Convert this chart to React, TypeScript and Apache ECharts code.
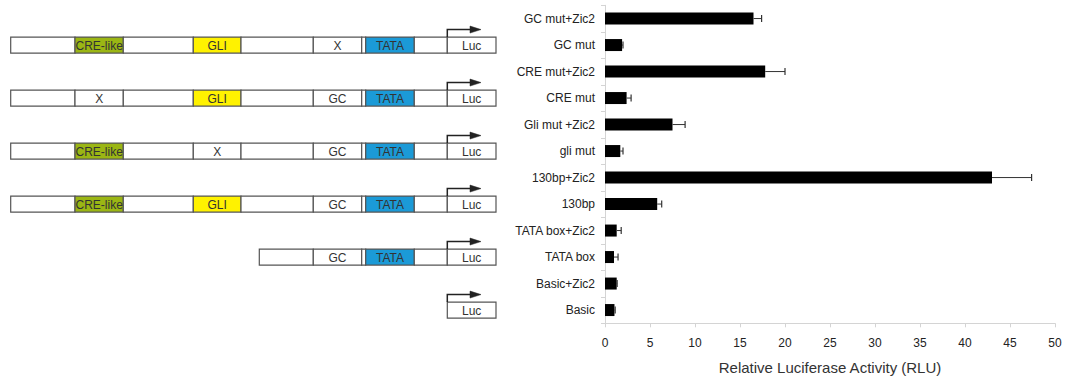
import React, { useEffect, useRef } from "react";
import * as echarts from "echarts";

const categories = [
  "GC mut+Zic2",
  "GC mut",
  "CRE mut+Zic2",
  "CRE mut",
  "Gli mut +Zic2",
  "gli mut",
  "130bp+Zic2",
  "130bp",
  "TATA box+Zic2",
  "TATA box",
  "Basic+Zic2",
  "Basic",
];
const values = [16.5, 1.9, 17.8, 2.4, 7.5, 1.7, 43.0, 5.8, 1.3, 1.0, 1.3, 1.05];
const errors = [0.9, 0.1, 2.2, 0.5, 1.4, 0.3, 4.4, 0.5, 0.5, 0.45, 0.05, 0.08];

// Construct diagrams, aligned with these categories
const constructCategory = ["GC mut", "CRE mut", "gli mut", "130bp", "TATA box", "Basic"];
const creSite: (string | null)[] = ["CRE-like", "X", "CRE-like", "CRE-like", null, null];
const gliSite: (string | null)[] = ["GLI", "GLI", "X", "GLI", null, null];
const gcSite: (string | null)[] = ["X", "GC", "GC", "GC", "GC", null];
const tataSite: (string | null)[] = ["TATA", "TATA", "TATA", "TATA", "TATA", null];

const FONT = "'Liberation Sans', Arial, Helvetica, sans-serif";
const COL: Record<string, string> = {
  "CRE-like": "#9bb614",
  GLI: "#fff200",
  TATA: "#1b9ad7",
};

function buildDiagram(chart: any) {
  const els: any[] = [];
  const H = 16;
  const stroke = "#555555";
  const box = (x0: number, x1: number, cy: number, label: string | null, fill: string) => {
    els.push({
      type: "rect",
      shape: { x: x0, y: cy - H / 2, width: x1 - x0, height: H },
      style: { fill, stroke, lineWidth: 1.2 },
    });
    if (label) {
      els.push({
        type: "text",
        x: (x0 + x1) / 2,
        y: cy + 0.5,
        z: 10,
        style: {
          text: label,
          fill: "#333333",
          font: `12px ${FONT}`,
          textAlign: "center",
          align: "center",
          textVerticalAlign: "middle",
          verticalAlign: "middle",
        },
      });
    }
  };
  constructCategory.forEach((cat, i) => {
    const idx = categories.indexOf(cat);
    const cy = chart.convertToPixel({ yAxisIndex: 0 }, idx) as number;
    const full = creSite[i] !== null;
    const hasGC = gcSite[i] !== null;
    if (full) {
      box(10.7, 75, cy, null, "#ffffff");
      const cre = creSite[i] as string;
      box(75, 123.3, cy, cre, COL[cre] || "#ffffff");
      box(123.3, 193.3, cy, null, "#ffffff");
      const gli = gliSite[i] as string;
      box(193.3, 241, cy, gli, COL[gli] || "#ffffff");
      box(241, 313.3, cy, null, "#ffffff");
    } else if (hasGC) {
      box(259.3, 313.3, cy, null, "#ffffff");
    }
    if (hasGC) {
      box(313.3, 361.7, cy, gcSite[i], "#ffffff");
      box(361.7, 365.7, cy, null, "#ffffff");
      const t = tataSite[i] as string;
      box(365.7, 414.3, cy, t, COL[t] || "#ffffff");
      box(414.3, 447.3, cy, null, "#ffffff");
    }
    box(447.3, 496, cy, "Luc", "#ffffff");
    const top = cy - H / 2;
    els.push({
      type: "polyline",
      shape: { points: [[447.3, top], [447.3, top - 7.5], [474, top - 7.5]] },
      style: { stroke: "#222222", lineWidth: 1.5, fill: null },
    });
    els.push({
      type: "polygon",
      shape: { points: [[470, top - 11], [481, top - 7.5], [470, top - 4]] },
      style: { fill: "#222222", stroke: "#222222", lineWidth: 0.5 },
    });
  });
  return els;
}

export default function App() {
  const ref = useRef<HTMLDivElement>(null);
  useEffect(() => {
    document.body.style.margin = "0";
    const chart = echarts.init(ref.current as HTMLDivElement, null, { renderer: "svg" });
    const errData = categories.map((_, i) => [i, values[i], values[i] + errors[i]]);
    chart.setOption({
      animation: false,
      grid: {
        left: 605,
        right: 14,
        top: 5.3,
        bottom: 52.7,
        containLabel: false,
        outerBoundsMode: "none",
      },
      xAxis: {
        type: "value",
        min: 0,
        max: 50,
        interval: 5,
        axisLine: { show: true, lineStyle: { color: "#d4d4d4", width: 1 } },
        axisTick: { show: true, length: 4, lineStyle: { color: "#d4d4d4" } },
        splitLine: { show: false },
        axisLabel: { color: "#222", fontSize: 12, margin: 14, fontFamily: FONT },
        name: "Relative Luciferase Activity (RLU)",
        nameLocation: "middle",
        nameGap: 37,
        nameTextStyle: { color: "#333", fontSize: 15, fontFamily: FONT },
      },
      yAxis: {
        type: "category",
        inverse: true,
        data: categories,
        axisLine: { show: true, lineStyle: { color: "#d4d4d4", width: 1 } },
        axisTick: { show: true, length: 4, lineStyle: { color: "#d4d4d4" } },
        axisLabel: { color: "#222", fontSize: 12, margin: 10, fontFamily: FONT },
      },
      series: [
        {
          type: "bar",
          data: values,
          barWidth: 12,
          itemStyle: { color: "#000" },
        },
        {
          type: "custom",
          data: errData,
          encode: { x: [1, 2], y: 0 },
          renderItem: (params: any, api: any) => {
            const c = api.value(0);
            const p0 = api.coord([api.value(1), c]);
            const p1 = api.coord([api.value(2), c]);
            return {
              type: "group",
              children: [
                {
                  type: "line",
                  shape: { x1: p0[0], y1: p0[1], x2: p1[0], y2: p1[1] },
                  style: { stroke: "#333", lineWidth: 1 },
                },
                {
                  type: "line",
                  shape: { x1: p1[0], y1: p1[1] - 3.5, x2: p1[0], y2: p1[1] + 3.5 },
                  style: { stroke: "#333", lineWidth: 1.2 },
                },
              ],
            };
          },
          z: 3,
        },
      ],
    });
    chart.setOption({ graphic: { elements: buildDiagram(chart) } });
    return () => chart.dispose();
  }, []);
  return (
    <div
      ref={ref}
      style={{ position: "fixed", left: 0, top: 0, width: 1069, height: 376, background: "#fff" }}
    />
  );
}
